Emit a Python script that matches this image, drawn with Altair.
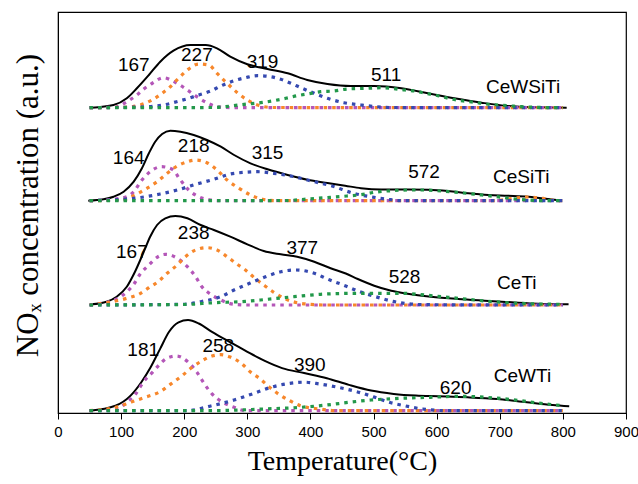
import altair as alt
import pandas as pd

# ---- data: (temperature °C, signal a.u.) ----
cewsiti_total = [(53,305.3),(88,308),(109,314.7),(125,324.7),(144,338),(162,351.3),(183,362.3),(210,368),(234,368),(252,364.7),(273,356.3),(300,348.7),(332,344),(364,339.7),(395,333),(427,329),(464,327),(501,327),(544,324.7),(586,319.7),(628,314.7),(671,310.3),(713,307),(766,305.7),(806,305.3)]
cewsiti_p1 = [(50,305.3),(90,306),(111,312),(125,318),(138,325),(150,330),(167,335.3),(185,331),(205,323),(220,316.3),(236,310.3),(252,306.3),(283,305.3),(800,305.3)]
cewsiti_p2 = [(50,305.3),(110,305.8),(130,308),(149,313),(165,319.7),(178,326.3),(191,334.7),(205,343),(223,349),(239,348),(252,339.7),(268,329.7),(284,320.3),(300,313),(316,308),(340,305.5),(800,305.3)]
cewsiti_p3 = [(50,305.3),(130,306),(167,308),(188,311.3),(207,314.7),(223,318),(242,322),(258,327),(279,332.3),(297,335.3),(316,337.3),(337,336.3),(353,333.7),(369,329.7),(387,324.7),(406,319.7),(427,314.7),(453,310.3),(480,308),(501,306.5),(525,305.5),(800,305.3)]
cewsiti_p4 = [(50,305.3),(245,305.5),(300,309),(321,310.3),(342,312.3),(361,314.7),(379,317.3),(401,319.7),(416,321.3),(437,322),(458,324),(490,324.7),(512,325.3),(528,324.7),(549,323),(565,322),(583,319.7),(602,317.3),(623,314),(642,312),(660,310.7),(679,309),(698,308),(719,307),(735,306.3),(756,305.7),(800,305.3)]

cesiti_total = [(48,212.3),(72,213.7),(88,216.3),(104,221.3),(120,231.3),(133,244.7),(144,259.7),(154,271.3),(165,279),(178,282.3),(194,281.3),(215,278),(236,273),(258,266.3),(279,258),(305,249.7),(332,243.7),(364,238),(395,233.3),(427,230),(455,227.3),(480,224.8),(512,223.5),(554,223.6),(586,223.3),(618,222),(650,219.7),(682,218),(713,217.3),(745,216.3),(766,214.7),(790,213)]
cesiti_p1 = [(50,212.3),(100,214.7),(120,221.3),(133,233),(146,241.3),(164,246.3),(181,243.7),(194,233),(207,223),(223,216.3),(242,213),(260,212.3),(800,212.3)]
cesiti_p2 = [(50,212.3),(100,213),(122,218),(141,224.7),(157,231.3),(173,239.7),(189,247),(205,251.3),(218,253),(236,250.3),(252,243),(268,233),(287,224.7),(305,218),(324,213.7),(345,212.3),(690,212.3),(720,214.5),(745,216),(770,214.5),(790,212.3),(800,212.3)]
cesiti_p3 = [(50,212.3),(120,214.7),(162,219),(189,223),(220,229),(247,233.7),(273,239),(295,240.7),(316,241.3),(342,239.7),(374,236.3),(406,231.3),(438,226.3),(464,220.5),(480,218),(501,215.7),(522,213.7),(545,212.3),(800,212.3)]
cesiti_p4 = [(50,212.3),(364,212.5),(390,213.7),(432,215.7),(458,217),(480,218.3),(501,220.7),(528,222.3),(554,223),(581,223),(607,222),(639,220.3),(671,218),(703,215.7),(724,214),(745,213),(770,212.3),(800,212.3)]

ceti_total = [(53,108.7),(77,111.3),(93,116.3),(109,126.3),(122,141.3),(136,161.3),(146,176.3),(157,188),(170,194.7),(186,197),(205,194.7),(226,188),(247,183),(273,176.3),(300,168.7),(326,162),(353,158.7),(379,156.3),(406,151.3),(432,144.7),(456,139.5),(475,134),(501,127.3),(528,122.3),(554,119.3),(591,116.3),(634,114),(676,112.3),(719,110.7),(761,109.3),(809,108.7)]
ceti_p1 = [(50,108),(93,114),(109,121.3),(120,128.7),(130,138.7),(144,148),(157,155.7),(170,158.7),(189,154.7),(205,146.3),(218,136.3),(228,126.3),(242,118.7),(258,113),(279,108.7),(300,108),(800,108)]
ceti_p2 = [(50,108),(109,114.7),(128,118.7),(144,125.3),(160,132),(173,139.7),(189,148),(202,156.3),(218,163),(236,165.3),(252,163),(268,156.3),(284,148.7),(297,143),(311,135.3),(326,128),(342,120.7),(358,114.7),(379,110.3),(400,108.7),(420,108),(800,108)]
ceti_p3 = [(50,108),(200,108.7),(226,111.3),(258,116.3),(279,123),(300,128.7),(316,133),(332,137),(353,141.3),(377,143),(406,139.7),(427,134),(456,127),(475,122),(491,118.7),(512,114.7),(528,112),(549,109.7),(581,108.3),(800,108)]
ceti_p4 = [(50,108),(200,108.5),(247,110.3),(289,111.3),(332,113.7),(374,116.3),(416,118.7),(448,119.5),(469,119.7),(507,119.7),(544,119.7),(581,118),(618,115.7),(660,113),(703,110.7),(745,109.3),(800,108.7)]

cewti_total = [(50,2.3),(91,7.3),(115,17.4),(132,30.8),(147,46),(162,64.4),(176,81.2),(191,90.6),(206,92.9),(223,89.5),(244,81.2),(267,72.8),(296,62.7),(326,52.6),(355,44.9),(390,39.9),(426,34.8),(461,28.1),(496,22.4),(532,19.1),(567,17.4),(602,16.7),(649,15.7),(696,14),(743,10.7),(784,8),(810,6.7)]
cewti_p1 = [(50,2.3),(91,3.5),(109,10.7),(123,19.1),(135,30.8),(150,40.9),(162,49.3),(173,55),(188,57),(206,51),(220,40.9),(232,29.1),(244,19.1),(261,10.7),(279,5.7),(296,2.3),(800,2.3)]
cewti_p2 = [(50,2.3),(91,5.7),(115,10.7),(138,15.7),(162,21.4),(179,29.1),(197,37.5),(211,44.9),(229,52.6),(244,57),(258,58.3),(273,56),(291,49.3),(305,40.9),(320,34.2),(335,25.8),(349,19.1),(367,12.4),(384,7.3),(414,4),(443,2.3),(800,2.3)]
cewti_p3 = [(50,2.3),(203,2.3),(244,7.3),(279,13),(308,19.1),(338,25.8),(361,29.1),(390,30.8),(414,29.1),(443,25.8),(473,21.4),(502,15.7),(525,10.7),(549,7.3),(578,4),(619,2.3),(800,2.3)]
cewti_p4 = [(50,2.3),(238,2.3),(326,4),(385,5.7),(426,8),(461,10.7),(496,13),(520,14),(543,14.7),(590,15.7),(637,16.7),(678,15.7),(719,13.4),(760,10),(800,7.3)]

samples = ["CeWSiTi", "CeSiTi", "CeTi", "CeWTi"]
totals = [cewsiti_total, cesiti_total, ceti_total, cewti_total]
components = [
    [cewsiti_p1, cewsiti_p2, cewsiti_p3, cewsiti_p4],
    [cesiti_p1, cesiti_p2, cesiti_p3, cesiti_p4],
    [ceti_p1, ceti_p2, ceti_p3, ceti_p4],
    [cewti_p1, cewti_p2, cewti_p3, cewti_p4],
]
comp_names = ["p1", "p2", "p3", "p4"]
comp_colors = ["#B456B8", "#F7872B", "#3549B0", "#22984A"]

# peak / sample labels: (text, T, value)
label_text = ["167", "227", "319", "511", "CeWSiTi",
              "164", "218", "315", "572", "CeSiTi",
              "167", "238", "377", "528", "CeTi",
              "181", "258", "390", "620", "CeWTi"]
label_T = [120, 220, 324, 520, 737,
           112, 215, 332, 580, 734,
           117, 215, 387, 549, 727,
           135, 254, 399, 630, 736]
label_v = [348, 358, 351.3, 338, 326.3,
           254.7, 267, 259.7, 241.3, 236.3,
           161.3, 179.7, 164.7, 136.3, 129.7,
           62.7, 67, 48.3, 24.8, 37.5]

x_ticks = list(range(0, 901, 50))

# ---- build tables ----
tot_rows = []
for s, pts in zip(samples, totals):
    for i, (t, v) in enumerate(pts):
        tot_rows.append({"sample": s, "T": t, "v": v, "i": i})
tot_df = pd.DataFrame(tot_rows)

comp_rows = []
for s, comps in zip(samples, components):
    for cname, pts in zip(comp_names, comps):
        for i, (t, v) in enumerate(pts):
            comp_rows.append({"sample": s, "comp": cname, "curve": s + cname, "T": t, "v": v, "i": i})
comp_df = pd.DataFrame(comp_rows)

lab_df = pd.DataFrame({"text": label_text, "T": label_T, "v": label_v})

xscale = alt.Scale(domain=[0, 900], nice=False, zero=False)
yscale = alt.Scale(domain=[0, 401], nice=False, zero=False)

xaxis = alt.Axis(values=x_ticks, labelExpr="datum.value % 100 == 0 ? datum.label : ''",
                 title="Temperature(°C)", grid=False, tickSize=6, tickColor="black",
                 domainColor="black", labelColor="black", labelFont="Liberation Sans",
                 labelFontSize=15, labelPadding=5, titleFont="Liberation Serif",
                 titleFontSize=28, titleFontWeight="normal", titleColor="black",
                 titlePadding=8, labelFlush=False)
yaxis = alt.Axis(title="NOₓ concentration (a.u.)", labels=False, ticks=False, grid=False,
                 domainColor="black", titleFont="Liberation Serif", titleFontSize=31,
                 titleFontWeight="normal", titleColor="black", titlePadding=14,
                 titleY=193)

total_layer = alt.Chart(tot_df).mark_line(color="black", strokeWidth=2, interpolate="monotone").encode(
    x=alt.X("T:Q", scale=xscale, axis=xaxis),
    y=alt.Y("v:Q", scale=yscale, axis=yaxis),
    detail="sample:N",
    order="i:Q",
)

comp_layer = alt.Chart(comp_df).mark_line(strokeWidth=3.2, strokeDash=[3.5, 5], interpolate="monotone").encode(
    x=alt.X("T:Q", scale=xscale),
    y=alt.Y("v:Q", scale=yscale),
    color=alt.Color("comp:N", scale=alt.Scale(domain=comp_names, range=comp_colors), legend=None),
    detail="curve:N",
    order="i:Q",
)

text_layer = alt.Chart(lab_df).mark_text(font="Liberation Sans", fontSize=19, color="black",
                                         align="center", baseline="middle").encode(
    x=alt.X("T:Q", scale=xscale),
    y=alt.Y("v:Q", scale=yscale),
    text="text:N",
)

chart = alt.layer(total_layer, comp_layer, text_layer).properties(
    width=568, height=401,
    autosize=alt.AutoSizeParams(type="none"),
    padding={"left": 58, "top": 12, "right": 12, "bottom": 71},
    background="white",
).configure_view(stroke="black", strokeWidth=1.2)

chart.save("out.html", embed_options={"renderer": "svg", "actions": False})
